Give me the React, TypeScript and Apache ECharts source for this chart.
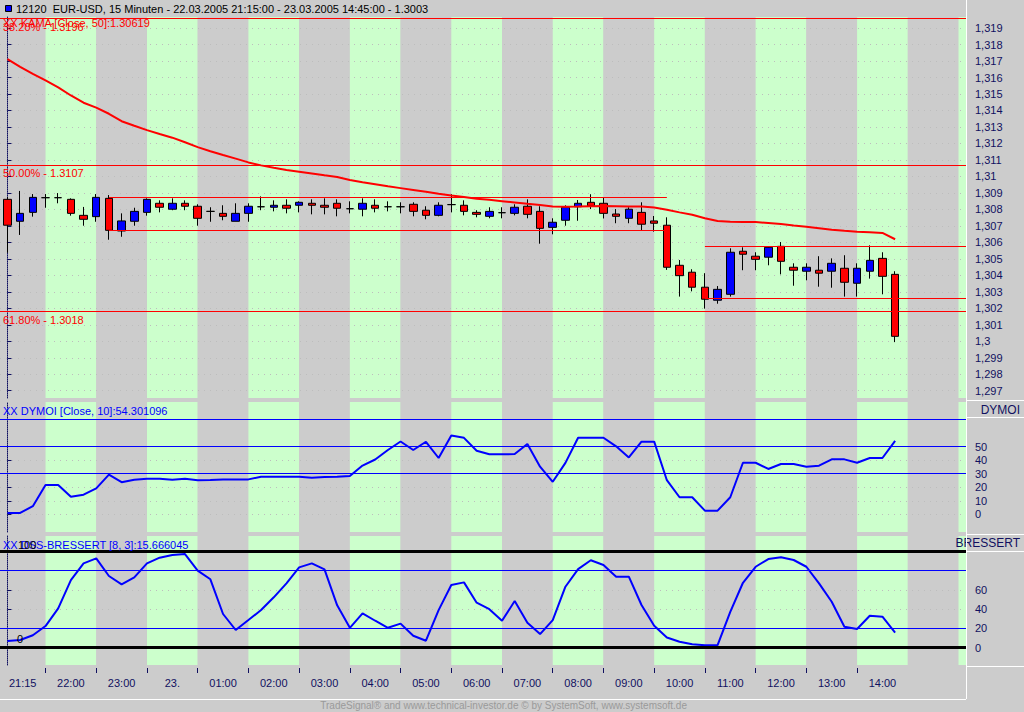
import React, { useEffect, useRef } from 'react';
import * as echarts from 'echarts';

// ---------- data ----------
const opens = [1.30861,1.30728,1.30782,1.30871,1.30871,1.30861,1.30764,1.30756,1.30867,1.30669,
1.30728,1.30782,1.30837,1.30801,1.30837,1.30819,1.30788,1.30776,1.30728,1.30776,
1.30816,1.30813,1.30825,1.30825,1.30837,1.30825,1.30837,1.30804,1.30801,1.30825,
1.30816,1.30816,1.30831,1.30795,1.30764,1.30829,1.30825,1.30782,1.30758,1.30780,
1.30776,1.30819,1.30788,1.30691,1.30734,1.30816,1.30843,1.30837,1.30772,1.30746,
1.30782,1.30730,1.30704,1.30461,1.30419,1.30328,1.30249,1.30285,1.30546,1.30516,
1.30510,1.30576,1.30449,1.30425,1.30431,1.30425,1.30443,1.30352,1.30425,1.30503,
1.30406];
const highs = [1.30875,1.30912,1.30893,1.30893,1.30899,1.30867,1.30815,1.30893,1.30887,1.30776,
1.30810,1.30867,1.30855,1.30867,1.30855,1.30831,1.30813,1.30825,1.30837,1.30837,
1.30879,1.30855,1.30861,1.30849,1.30861,1.30867,1.30861,1.30849,1.30867,1.30861,
1.30849,1.30843,1.30843,1.30819,1.30843,1.30892,1.30855,1.30795,1.30813,1.30813,
1.30831,1.30861,1.30819,1.30746,1.30825,1.30857,1.30892,1.30869,1.30802,1.30813,
1.30843,1.30760,1.30752,1.30493,1.30437,1.30413,1.30335,1.30564,1.30570,1.30540,
1.30576,1.30602,1.30473,1.30473,1.30516,1.30503,1.30522,1.30473,1.30582,1.30540,
1.30425];
const lows = [1.30537,1.30645,1.30756,1.30810,1.30837,1.30762,1.30701,1.30725,1.30616,1.30634,
1.30701,1.30762,1.30782,1.30795,1.30795,1.30701,1.30725,1.30734,1.30728,1.30725,
1.30795,1.30788,1.30776,1.30782,1.30770,1.30770,1.30758,1.30776,1.30758,1.30782,
1.30788,1.30776,1.30758,1.30740,1.30758,1.30782,1.30764,1.30752,1.30746,1.30746,
1.30764,1.30746,1.30592,1.30649,1.30701,1.30731,1.30802,1.30745,1.30716,1.30716,
1.30675,1.30665,1.30433,1.30271,1.30303,1.30198,1.30228,1.30271,1.30431,1.30431,
1.30461,1.30406,1.30337,1.30370,1.30331,1.30325,1.30271,1.30271,1.30380,1.30285,
1.29995];
const closes = [1.30704,1.30776,1.30873,1.30871,1.30871,1.30776,1.30740,1.30873,1.30673,1.30730,
1.30788,1.30861,1.30813,1.30837,1.30819,1.30746,1.30788,1.30758,1.30776,1.30819,
1.30816,1.30825,1.30807,1.30843,1.30825,1.30813,1.30807,1.30804,1.30837,1.30807,
1.30816,1.30816,1.30788,1.30764,1.30825,1.30829,1.30788,1.30770,1.30788,1.30780,
1.30813,1.30770,1.30685,1.30722,1.30813,1.30837,1.30821,1.30776,1.30758,1.30801,
1.30710,1.30716,1.30449,1.30398,1.30328,1.30255,1.30315,1.30540,1.30528,1.30497,
1.30570,1.30485,1.30431,1.30449,1.30413,1.30473,1.30358,1.30443,1.30491,1.30394,
1.30030];
const kama = [1.31712,1.31665,1.31622,1.31583,1.31540,1.31491,1.31447,1.31417,1.31380,1.31335,
1.31307,1.31281,1.31257,1.31235,1.31207,1.31178,1.31153,1.31130,1.31108,1.31085,
1.31067,1.31052,1.31039,1.31029,1.31018,1.31007,1.30997,1.30978,1.30964,1.30952,
1.30940,1.30929,1.30918,1.30907,1.30895,1.30884,1.30875,1.30865,1.30858,1.30850,
1.30842,1.30834,1.30827,1.30818,1.30816,1.30817,1.30819,1.30820,1.30819,1.30818,
1.30817,1.30811,1.30798,1.30782,1.30767,1.30746,1.30730,1.30725,1.30724,1.30723,
1.30717,1.30711,1.30702,1.30695,1.30686,1.30676,1.30670,1.30665,1.30662,1.30657,
1.30619];
const dymoi = [1,1,6,21.7,21.7,13,14.5,19.2,29.3,23.7,
25.6,26.3,26.3,25.6,26.3,25.1,25.4,25.8,25.8,25.8,
27.8,27.8,27.8,27.8,27,27.5,27.8,28.3,36,40.5,
47.5,53.8,47.5,53.6,41.6,58.2,56.5,47,44.4,44.3,
44.5,52,35.2,24,38,56.6,56.6,56.6,50.2,42,
53.7,53.7,25.2,12.6,12.6,2.7,2.7,12.6,38.1,38.1,
33.5,37.2,37.2,35.2,35.9,40.6,40.6,38.1,41.6,41.6,
54.3];
const dss = [7,8,13,22.5,40.9,70.2,87.5,92.7,74.4,65.8,
73,87.5,93.4,96.2,97.2,80,71,35,18.4,28.7,
39.1,52.3,66.8,83.4,87.5,81.3,44,20.7,35.7,28,
20.7,25,12.4,7.3,39,65,67.8,46.7,40,28,
48.4,25.9,14.2,28.7,63.3,81.6,90.7,85.8,73.7,73.7,
44.3,22.8,10.6,6.2,3.6,2.5,2.8,37.3,67.4,84,
92,93.8,91,84,66.8,47.7,21.8,19.4,33.2,32.2,
15.67];

const timeLabels = ['21:15','22:00','23:00','23.','01:00','02:00','03:00','04:00','05:00',
  '06:00','07:00','08:00','09:00','10:00','11:00','12:00','13:00','14:00'];
const labelCenters = [1.2,5,9,13,17,21,25,29,33,37,41,45,49,53,57,61,65,69];
const hourTicks = [3,7,11,15,19,23,27,31,35,39,43,47,51,55,59,63,67,71,75];
const hourTickMarks = [3,7,11,15,19,23,27,31,35,39,43,47,51,55,59,63,67];

const priceTicks = [1.297,1.298,1.299,1.3,1.301,1.302,1.303,1.304,1.305,1.306,1.307,1.308,
  1.309,1.31,1.311,1.312,1.313,1.314,1.315,1.316,1.317,1.318,1.319];
const dymoiTicks = [0,10,20,30,40,50];
const dssTicks = [0,20,40,60];

const fibLevels = [1.3196, 1.3107, 1.3018];
const fibNames = ['38.20% - 1.3196', '50.00% - 1.3107', '61.80% - 1.3018'];
// box lines: [from index, to index, price]
const boxLines = [[8,52,1.30873],[8,52,1.30673],[55,75.59,1.30576],[55,75.59,1.30263]];
const dymoiLevels = [30,50,70];
const dssThin = [20,80];
const dssThick = [0,100];

// ---------- style ----------
const FONT = '"Liberation Sans", Arial, sans-serif';
const NAVY = '#101060';
const GRAY = '#cccccc';
const GREEN = '#ccffcc';
const X_MIN = -0.59;
const X_MAX = 75.59;

function hLine(v: number, color: string, width: number, label?: string) {
  const start: any = { coord: [X_MIN, v], lineStyle: { color, width, type: 'solid' } };
  if (label) {
    start.label = { show: true, formatter: label, position: 'insideStartBottom', distance: [3, 3], color, fontSize: 11, fontFamily: FONT };
  }
  return [start, { coord: [X_MAX, v] }];
}

function buildOption() {
  const stripeTicks = [X_MIN, ...hourTicks, X_MAX];
  const stripeAxis = (gi: number) => ({
    type: 'value', gridIndex: gi, min: X_MIN, max: X_MAX, position: 'top',
    axisLine: { show: false },
    axisTick: { show: false, customValues: stripeTicks },
    axisLabel: { show: false },
    splitLine: { show: false },
    splitArea: { show: true, areaStyle: { color: [GRAY, GREEN] } },
    z: 0,
  });
  const yCommon = (gi: number, min: number, max: number, ticks: number[], fmt: (v: number) => string) => ({
    type: 'value', gridIndex: gi, position: 'right', min, max, offset: 3, z: 1,
    axisLine: { show: true, lineStyle: { color: NAVY, type: 'dotted', width: 1 } },
    axisTick: { show: true, length: 4, customValues: ticks, lineStyle: { color: NAVY } },
    axisLabel: { show: true, customValues: ticks, formatter: fmt, color: NAVY, fontSize: 11, fontFamily: FONT, margin: 6 },
    splitLine: { show: true, lineStyle: { color: '#bdbdbd', type: [1, 5], width: 1 } },
  });
  const candleData = opens.map((o, i) => [i, o, closes[i], lows[i], highs[i]]);

  return {
    animation: false,
    backgroundColor: GRAY,
    grid: [
      { left: 0, right: 58, top: 17, height: 381, containLabel: false, outerBoundsMode: 'none' },
      { left: 0, right: 58, top: 402, height: 130, containLabel: false, outerBoundsMode: 'none' },
      { left: 0, right: 58, top: 536, height: 129, containLabel: false, outerBoundsMode: 'none' },
    ],
    xAxis: [
      stripeAxis(0), stripeAxis(1), stripeAxis(2),
      {
        type: 'value', gridIndex: 2, min: X_MIN, max: X_MAX, position: 'bottom', offset: 3,
        axisLine: { show: false },
        axisTick: { show: true, length: 5, customValues: hourTickMarks, lineStyle: { color: NAVY } },
        axisLabel: {
          show: true, customValues: labelCenters, color: NAVY, fontSize: 11, fontFamily: FONT, margin: 9,
          formatter: (v: number) => {
            const k = labelCenters.findIndex((c) => Math.abs(c - v) < 0.01);
            return k >= 0 ? timeLabels[k] : '';
          },
        },
        splitLine: { show: false },
      },
    ],
    yAxis: [
      yCommon(0, 1.29656, 1.31967, priceTicks, (v: number) => String(+v.toFixed(3)).replace('.', ',')),
      yCommon(1, -13.1, 83.0, dymoiTicks, (v: number) => String(v)),
      yCommon(2, -17.9, 115.9, dssTicks, (v: number) => String(v)),
    ],
    series: [
      {
        type: 'candlestick', xAxisIndex: 0, yAxisIndex: 0, data: candleData, barWidth: 8, z: 2,
        itemStyle: { color: '#0000ff', color0: '#ff0000', borderColor: '#000000', borderColor0: '#000000', borderColorDoji: '#000000', borderWidth: 1 },
        markLine: {
          silent: true, symbol: ['none', 'none'], animation: false,
          label: { show: false },
          lineStyle: { color: '#ff0000', width: 1, type: 'solid' },
          data: [
            ...fibLevels.map((v, k) => hLine(v, '#ff0000', 1, fibNames[k])),
            ...boxLines.map(([a, b, v]) => [
              { coord: [a, v], lineStyle: { color: '#ff0000', width: 1, type: 'solid' } },
              { coord: [b, v] },
            ]),
          ],
        },
      },
      {
        type: 'line', xAxisIndex: 0, yAxisIndex: 0, data: kama.map((v, i) => [i, v]), z: 4,
        symbol: 'none', showSymbol: false, lineStyle: { color: '#ff0000', width: 2 }, silent: true,
      },
      {
        type: 'line', xAxisIndex: 1, yAxisIndex: 1, data: dymoi.map((v, i) => [i, v]), z: 4,
        symbol: 'none', showSymbol: false, lineStyle: { color: '#0000ff', width: 2 }, silent: true,
        markLine: {
          silent: true, symbol: ['none', 'none'], animation: false, label: { show: false },
          lineStyle: { color: '#0000ff', width: 1, type: 'solid' },
          data: dymoiLevels.map((v) => hLine(v, '#0000ff', 1)),
        },
      },
      {
        type: 'line', xAxisIndex: 2, yAxisIndex: 2, data: dss.map((v, i) => [i, v]), z: 4,
        symbol: 'none', showSymbol: false, lineStyle: { color: '#0000ff', width: 2 }, silent: true,
        markLine: {
          silent: true, symbol: ['none', 'none'], animation: false, label: { show: false },
          data: [
            ...dssThin.map((v) => hLine(v, '#0000ff', 1)),
            ...dssThick.map((v) => hLine(v, '#000000', 3)),
          ],
        },
      },
    ],
    graphic: [
      { type: 'rect', z: 100, shape: { x: 5.5, y: 5.5, width: 6, height: 6 }, style: { fill: '#0000ff', stroke: '#000000', lineWidth: 1 } },
      { type: 'text', z: 100, x: 16, y: 9, style: { text: '12120  EUR-USD, 15 Minuten - 22.03.2005 21:15:00 - 23.03.2005 14:45:00 - 1.3003', fill: '#000000', font: '11px ' + FONT, verticalAlign: 'middle' } },
      { type: 'text', z: 100, x: 3, y: 23, style: { text: 'XX KAMA [Close, 50]:1.30619', fill: '#ff0000', font: '11px ' + FONT, verticalAlign: 'middle' } },
      { type: 'text', z: 100, x: 3, y: 411, style: { text: 'XX DYMOI [Close, 10]:54.301096', fill: '#0000ff', font: '11px ' + FONT, verticalAlign: 'middle' } },
      { type: 'text', z: 100, x: 3, y: 545, style: { text: 'XX DSS-BRESSERT [8, 3]:15.666045', fill: '#0000ff', font: '11px ' + FONT, verticalAlign: 'middle' } },
      { type: 'text', z: 100, x: 18, y: 545, style: { text: '100', fill: '#000000', font: '11px ' + FONT, verticalAlign: 'middle' } },
      { type: 'text', z: 100, x: 17, y: 639, style: { text: '0', fill: '#000000', font: '11px ' + FONT, verticalAlign: 'middle' } },
      { type: 'text', z: 100, x: 1020, y: 410, style: { text: 'DYMOI', fill: NAVY, font: '12px ' + FONT, align: 'right', verticalAlign: 'middle' } },
      { type: 'text', z: 100, x: 1020, y: 543, style: { text: 'BRESSERT', fill: NAVY, font: '12px ' + FONT, align: 'right', verticalAlign: 'middle' } },
      { type: 'text', z: 100, x: 687, y: 705.5, style: { text: 'TradeSignal® and www.technical-investor.de © by SystemSoft, www.systemsoft.de', fill: '#9a9a9a', font: '10px ' + FONT, align: 'right', verticalAlign: 'middle' } },
      { type: 'line', z: 100, shape: { x1: 966.5, y1: 0, x2: 966.5, y2: 699 }, style: { stroke: '#ffffff', lineWidth: 1 } },
      { type: 'line', z: 100, shape: { x1: 0, y1: 699.5, x2: 966, y2: 699.5 }, style: { stroke: '#ffffff', lineWidth: 1 } },
      ...[400.5, 417.5, 534.5, 551.5, 666.5].map((y) => ({ type: 'line', z: 100, shape: { x1: 967, y1: y, x2: 1024, y2: y }, style: { stroke: '#ffffff', lineWidth: 1 } })),
    ],
  };
}

export default function App() {
  const ref = useRef<HTMLDivElement>(null);
  useEffect(() => {
    const chart = echarts.init(ref.current as HTMLDivElement, null, { renderer: 'svg' });
    chart.setOption(buildOption() as any);
    return () => chart.dispose();
  }, []);
  return <div ref={ref} style={{ position: 'absolute', left: 0, top: 0, width: 1024, height: 712 }} />;
}
